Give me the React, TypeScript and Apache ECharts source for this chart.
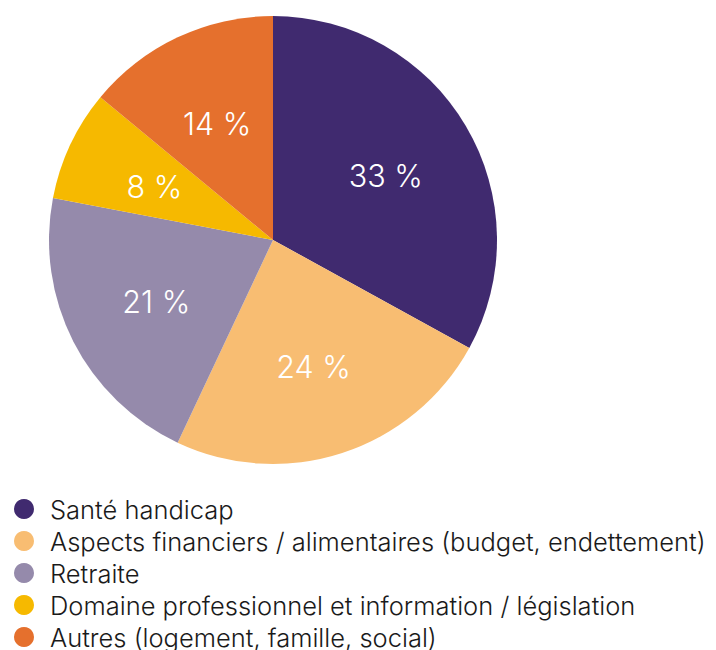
import React, { useEffect, useRef } from "react";
import * as echarts from "echarts";

const categories = [
  "Santé handicap",
  "Aspects financiers / alimentaires (budget, endettement)",
  "Retraite",
  "Domaine professionnel et information / législation",
  "Autres (logement, famille, social)",
];
const values = [33, 24, 21, 8, 14];
const colors = ["#402a6f", "#f8bd72", "#958aab", "#f6b900", "#e5702d"];

export default function App() {
  const ref = useRef<HTMLDivElement>(null);
  useEffect(() => {
    if (!ref.current) return;
    const chart = echarts.init(ref.current, null, { renderer: "svg" });
    const data = categories.map((name, i) => ({
      name,
      value: values[i],
      itemStyle: { color: colors[i] },
    }));
    chart.setOption({
      animation: false,
      legend: {
        data: categories,
        orient: "vertical",
        left: 14,
        top: 496,
        height: 200,
        padding: 0,
        icon: "circle",
        itemWidth: 20,
        itemHeight: 20,
        itemGap: 6,
        selectedMode: false,
        textStyle: {
          fontFamily: "Inter",
          fontWeight: 300,
          fontSize: 25.5,
          lineHeight: 26,
          color: "#1a1a1a",
          padding: [0, 0, 0, 11],
        },
      },
      series: [
        {
          type: "pie",
          center: [273, 240],
          radius: 224,
          startAngle: 90,
          clockwise: true,
          silent: true,
          label: { show: false },
          labelLine: { show: false },
          data,
        },
        {
          type: "pie",
          center: [273, 242],
          radius: 256,
          startAngle: 90,
          clockwise: true,
          silent: true,
          itemStyle: { color: "transparent" },
          label: {
            show: true,
            position: "inside",
            formatter: (p: any) => `${p.value} %`,
            color: "#ffffff",
            fontFamily: "Inter",
            fontWeight: 300,
            fontSize: 30.5,
          },
          labelLine: { show: false },
          data: categories.map((name, i) => ({ name, value: values[i] })),
        },
      ],
    });
    return () => chart.dispose();
  }, []);
  return (
    <div
      ref={ref}
      style={{ position: "absolute", left: 0, top: 0, width: 716, height: 650 }}
    />
  );
}
